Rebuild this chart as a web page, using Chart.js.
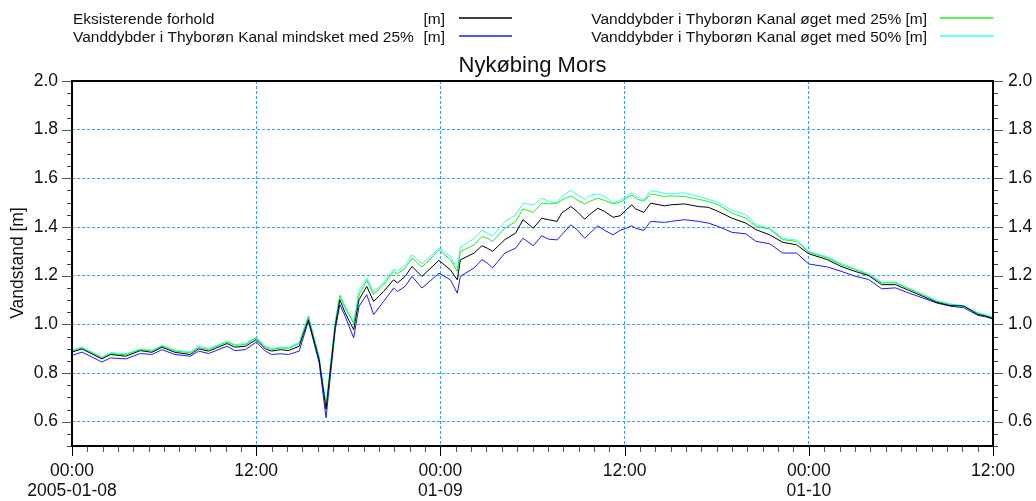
<!DOCTYPE html>
<html>
<head>
<meta charset="utf-8">
<script src="https://cdn.jsdelivr.net/npm/chart.js@4/dist/chart.umd.min.js"></script>
<style>
html,body{margin:0;padding:0;background:#fff;}
#wrap{width:1036px;height:501px;}
</style>
</head>
<body>
<div id="wrap"><canvas id="c" width="1036" height="501"></canvas></div>
<script>
// ---- DATA ----
const chartTitle = 'Nykøbing Mors';
const yAxisTitle = 'Vandstand [m]';
const seriesNames = [
  'Eksisterende forhold',
  'Vanddybder i Thyborøn Kanal mindsket med 25%',
  'Vanddybder i Thyborøn Kanal øget med 25%',
  'Vanddybder i Thyborøn Kanal øget med 50%'
];
const unitLabel = '[m]';
// hours since 2005-01-08 00:00
const hours = [0,0.65,1.95,2.5,3.5,4.45,5.2,5.86,6.7,7.7,8.25,8.9,10.1,10.6,11.3,12.0,12.6,13.0,13.6,14.1,14.8,15.4,16.1,16.55,17.15,17.45,17.8,18.35,18.7,19.2,19.65,20.3,20.95,21.2,21.7,22.15,22.8,23.9,24.65,25.1,25.3,
  26.2,26.7,27.05,27.4,28.2,28.9,29.38,30.05,30.6,31.04,31.6,31.9,32.5,32.9,33.4,33.7,34.25,34.7,35.25,35.7,36.1,36.47,36.7,37.25,37.7,38.6,39.0,39.9,40.8,41.45,42.1,43.0,43.9,44.56,45.45,46.3,47.2,48.0,49.2,50.1,51.0,51.9,52.75,53.65,54.5,55.4,56.3,57.2,58.1,59.0,59.5,60.0];
const eksisterende = [0.886,0.899,0.858,0.876,0.869,0.892,0.885,0.906,0.885,0.876,0.899,0.890,0.921,0.906,0.910,0.937,0.899,0.890,0.896,0.892,0.910,1.019,0.855,0.651,0.992,1.101,1.047,0.978,1.101,1.156,1.094,1.135,1.183,1.170,1.197,1.238,1.197,1.263,1.224,1.183,1.265,
  1.293,1.323,1.313,1.300,1.348,1.375,1.430,1.395,1.436,1.430,1.423,1.457,1.484,1.464,1.432,1.450,1.477,1.464,1.440,1.446,1.470,1.491,1.475,1.460,1.498,1.487,1.491,1.495,1.484,1.481,1.464,1.436,1.416,1.389,1.368,1.337,1.327,1.290,1.266,1.238,1.218,1.200,1.163,1.163,1.140,1.116,1.091,1.077,1.075,1.041,1.034,1.023];
const mindsket25 = [0.872,0.886,0.845,0.862,0.858,0.880,0.876,0.896,0.876,0.869,0.890,0.880,0.910,0.892,0.896,0.927,0.890,0.876,0.879,0.876,0.890,1.013,0.842,0.616,0.978,1.081,1.033,0.944,1.074,1.122,1.040,1.094,1.149,1.135,1.156,1.197,1.149,1.210,1.183,1.128,1.197,
  1.232,1.266,1.252,1.232,1.293,1.313,1.354,1.323,1.364,1.350,1.347,1.368,1.409,1.389,1.354,1.372,1.405,1.386,1.368,1.386,1.395,1.405,1.395,1.386,1.423,1.419,1.423,1.430,1.423,1.416,1.402,1.378,1.372,1.341,1.331,1.293,1.293,1.248,1.236,1.218,1.198,1.184,1.146,1.150,1.129,1.109,1.088,1.075,1.068,1.037,1.031,1.023];
const oeget25 = [0.890,0.903,0.862,0.880,0.875,0.896,0.890,0.910,0.890,0.883,0.905,0.896,0.927,0.913,0.917,0.944,0.907,0.896,0.903,0.901,0.921,1.030,0.862,0.662,1.006,1.115,1.067,1.003,1.122,1.181,1.122,1.163,1.217,1.208,1.231,1.272,1.235,1.306,1.265,1.217,1.299,
  1.327,1.361,1.354,1.341,1.395,1.423,1.475,1.460,1.498,1.495,1.498,1.511,1.528,1.511,1.495,1.505,1.518,1.509,1.495,1.502,1.518,1.532,1.518,1.505,1.536,1.525,1.528,1.525,1.514,1.505,1.491,1.457,1.436,1.402,1.391,1.348,1.341,1.296,1.273,1.245,1.225,1.204,1.170,1.170,1.146,1.122,1.095,1.081,1.075,1.045,1.037,1.027];
const oeget50 = [0.894,0.907,0.866,0.884,0.879,0.900,0.894,0.914,0.894,0.887,0.909,0.900,0.931,0.917,0.921,0.948,0.911,0.900,0.907,0.905,0.926,1.036,0.866,0.672,1.012,1.122,1.074,1.010,1.140,1.190,1.131,1.172,1.227,1.218,1.244,1.286,1.249,1.313,1.279,1.231,1.317,
  1.354,1.386,1.375,1.364,1.423,1.450,1.498,1.490,1.518,1.505,1.500,1.525,1.552,1.532,1.514,1.528,1.536,1.525,1.498,1.511,1.525,1.541,1.528,1.511,1.550,1.539,1.536,1.541,1.525,1.514,1.500,1.468,1.450,1.409,1.395,1.354,1.346,1.300,1.277,1.250,1.228,1.208,1.173,1.173,1.149,1.125,1.098,1.084,1.077,1.048,1.040,1.030];
const xTickLabels = {0:['00:00','2005-01-08'],12:'12:00',24:['00:00','01-09'],36:'12:00',48:['00:00','01-10'],60:'12:00'};
const seriesColors = ['#000000','#1a1aff','#22ee22','#33ffff'];

// ---- CHART ----
const FONT = "'Liberation Sans', Arial, sans-serif";
Chart.defaults.font.family = FONT;
const toPts = arr => arr.map((v,i)=>({x:hours[i], y:v}));
const isMajorY = v => Math.abs(v*5 - Math.round(v*5)) < 1e-6;
const GRID = '#3f9fff';

const deco = {
  id:'deco',
  afterDraw(chart){
    const ctx = chart.ctx, a = chart.chartArea;
    const xs = chart.scales.x, ys = chart.scales.y, ys2 = chart.scales.y2;
    ctx.save();
    ctx.lineWidth = 1;
    xs.ticks.forEach(t=>{
      const px = Math.round(xs.getPixelForValue(t.value)) + 0.5;
      const major = Math.abs(t.value % 12) < 1e-6;
      ctx.strokeStyle = major ? '#000' : '#555';
      ctx.beginPath(); ctx.moveTo(px, a.bottom); ctx.lineTo(px, a.bottom + (major?10:6)); ctx.stroke();
    });
    [ys, ys2].forEach((s,k)=>{
      s.ticks.forEach(t=>{
        const py = Math.round(s.getPixelForValue(t.value)) + 0.5;
        const len = isMajorY(t.value) ? 10 : 5;
        ctx.strokeStyle = isMajorY(t.value) ? '#555' : '#444';
        ctx.beginPath();
        if(k===0){ctx.moveTo(a.left,py);ctx.lineTo(a.left-len,py);}
        else {ctx.moveTo(a.right,py);ctx.lineTo(a.right+len,py);}
        ctx.stroke();
      });
    });
    ctx.strokeStyle='#000'; ctx.lineWidth=2;
    ctx.strokeRect(a.left, a.top, a.right-a.left, a.bottom-a.top);

    // title
    ctx.fillStyle='#111';
    ctx.font = '22px ' + FONT;
    ctx.textAlign='center'; ctx.textBaseline='alphabetic';
    ctx.fillText(chartTitle, (a.left+a.right)/2, 72);

    // legend
    ctx.font = '15.5px ' + FONT;
    const rows = [24, 42];
    const leftItems = [0,1], rightItems = [2,3];
    leftItems.forEach((si,r)=>{
      ctx.textAlign='left'; ctx.fillStyle='#111';
      ctx.fillText(seriesNames[si], a.left+1, rows[r]);
      ctx.textAlign='right';
      ctx.fillText(unitLabel, 445, rows[r]);
      ctx.strokeStyle = seriesColors[si]; ctx.lineWidth = 1.5;
      ctx.beginPath(); ctx.moveTo(459, rows[r]-6); ctx.lineTo(512, rows[r]-6); ctx.stroke();
    });
    rightItems.forEach((si,r)=>{
      ctx.textAlign='right'; ctx.fillStyle='#111';
      ctx.fillText(seriesNames[si] + ' ' + unitLabel, 927, rows[r]);
      ctx.strokeStyle = seriesColors[si]; ctx.lineWidth = 1.5;
      ctx.beginPath(); ctx.moveTo(940, rows[r]-6); ctx.lineTo(993, rows[r]-6); ctx.stroke();
    });

    // y axis title
    ctx.translate(18, 263); ctx.rotate(-Math.PI/2);
    ctx.font = '17.5px ' + FONT; ctx.fillStyle='#111';
    ctx.textAlign='center'; ctx.textBaseline='middle';
    ctx.fillText(yAxisTitle, 0, 0);
    ctx.restore();
  }
};

const yTicks = (pad)=>({
  stepSize:0.05, autoSkip:false, maxTicksLimit:100, padding:pad, color:'#111',
  font:{size:17.5, family:FONT},
  callback:(v)=> isMajorY(v) ? v.toFixed(1) : ''
});
const yGrid = (onArea)=>({
  drawOnChartArea:onArea, drawTicks:false, lineWidth:1,
  color:(c)=>{ const v=c.tick?c.tick.value:0; return (isMajorY(v) && v<1.999 && v>0.501) ? GRID : 'rgba(0,0,0,0)'; }
});

new Chart(document.getElementById('c'), {
  type:'line',
  data:{
    datasets:[
      {label:seriesNames[0], data:toPts(eksisterende), borderColor:seriesColors[0]},
      {label:seriesNames[1], data:toPts(mindsket25), borderColor:seriesColors[1]},
      {label:seriesNames[2], data:toPts(oeget25), borderColor:seriesColors[2]},
      {label:seriesNames[3], data:toPts(oeget50), borderColor:seriesColors[3]}
    ]
  },
  options:{
    responsive:false, animation:false, devicePixelRatio:1,
    layout:{padding:{top:81,left:0,right:0,bottom:0}},
    elements:{point:{radius:0}, line:{borderWidth:1, tension:0}},
    plugins:{legend:{display:false}, tooltip:{enabled:false}, title:{display:false}},
    scales:{
      x:{type:'linear', position:'bottom', min:0, max:60,
        ticks:{stepSize:1, autoSkip:false, maxTicksLimit:100, maxRotation:0, minRotation:0, padding:15, color:'#111',
          font:{size:17.5, family:FONT, lineHeight:1.15},
          callback:(v)=> (xTickLabels[v]!==undefined ? xTickLabels[v] : '')},
        grid:{drawTicks:false, lineWidth:1,
          color:(c)=>{ const v=c.tick?c.tick.value:0; return (v%12===0 && v>0 && v<60) ? GRID : 'rgba(0,0,0,0)'; }},
        border:{display:false, dash:[3,2]},
        afterFit:(s)=>{ s.height = 55; }
      },
      y:{type:'linear', position:'left', min:0.5, max:2.0,
        ticks:yTicks(14), grid:yGrid(true), border:{display:false, dash:[3,2]},
        afterFit:(s)=>{ s.width = 72; }
      },
      y2:{type:'linear', position:'right', min:0.5, max:2.0,
        ticks:yTicks(15), grid:yGrid(false), border:{display:false},
        afterFit:(s)=>{ s.width = 43; }
      }
    }
  },
  plugins:[deco]
});
</script>
</body>
</html>
